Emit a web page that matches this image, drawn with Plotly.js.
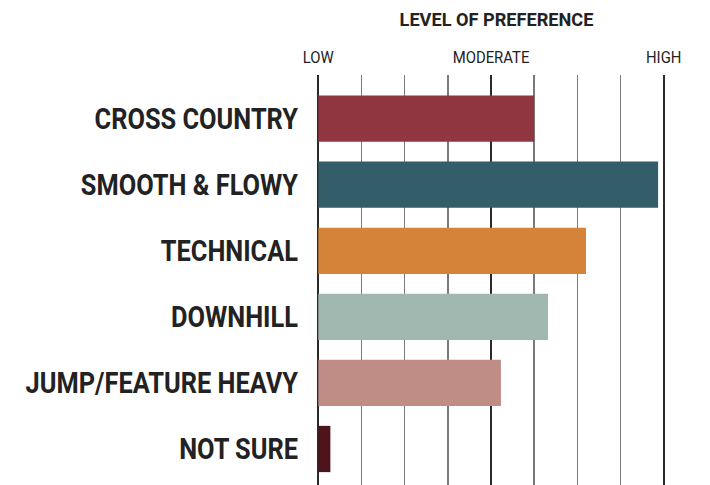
<!DOCTYPE html>
<html>
<head>
<meta charset="utf-8">
<script src="https://cdn.plot.ly/plotly-3.0.1.min.js"></script>
<style>html,body{margin:0;padding:0;background:#fff;}#chart{width:710px;height:485px;}</style>
</head>
<body>
<div id="chart"></div>
<script>
var categories = ['CROSS COUNTRY', 'SMOOTH & FLOWY', 'TECHNICAL', 'DOWNHILL', 'JUMP/FEATURE HEAVY', 'NOT SURE'];
var values = [5.0, 7.87, 6.2, 5.32, 4.23, 0.28];
var barColors = ['#8f3641', '#335d68', '#d6833a', '#a0b8af', '#bf8c86', '#4e141c'];
var scaleVals = [0, 4, 8];
var scaleText = ['LOW', 'MODERATE', 'HIGH'];

var FONT = 'Roboto, "Noto Sans", sans-serif';

var trace = {
  type: 'bar',
  orientation: 'h',
  y: categories,
  x: values,
  marker: { color: barColors, line: { width: 0 } },
  hoverinfo: 'x+y'
};

var layout = {
  width: 710,
  height: 485,
  margin: { l: 317, r: 45, t: 75, b: 0, pad: 0 },
  paper_bgcolor: '#fff',
  plot_bgcolor: '#fff',
  bargap: 0.3,
  showlegend: false,
  font: { family: FONT, color: '#222' },
  title: {
    text: '<b>LEVEL OF PREFERENCE</b>',
    font: { family: FONT, size: 19, color: '#222' },
    x: 496.5 / 710, xref: 'container', xanchor: 'center',
    y: 1 - 19 / 485, yref: 'container', yanchor: 'middle'
  },
  xaxis: {
    side: 'top',
    range: [-0.03, 8.03],
    tickmode: 'array',
    tickvals: scaleVals,
    ticktext: scaleText,
    tickfont: { family: FONT, size: 16, color: '#222' },
    ticks: '',
    ticklabelstandoff: 8,
    showgrid: true,
    gridcolor: '#2a2a2a',
    gridwidth: 2,
    zeroline: false,
    showline: false,
    minor: { dtick: 1, tick0: 0, showgrid: true, gridcolor: '#7a7a7a', gridwidth: 1.5, ticks: '' },
    fixedrange: true
  },
  yaxis: {
    type: 'category',
    autorange: false,
    range: [5.545, -0.66],
    tickfont: { family: FONT, size: 29, color: '#222', weight: 'bold' },
    ticks: '',
    ticklabelstandoff: 18,
    showgrid: false,
    zeroline: false,
    showline: false,
    fixedrange: true
  }
};

function condense(selector, k) {
  document.querySelectorAll(selector).forEach(function (t) {
    var L = t.getComputedTextLength();
    if (L > 0) {
      t.setAttribute('textLength', (L * k).toFixed(1));
      t.setAttribute('lengthAdjust', 'spacingAndGlyphs');
    }
  });
}

Plotly.newPlot('chart', [trace], layout, { displayModeBar: false, staticPlot: true }).then(function () {
  condense('.ytick text', 0.875);
  condense('.xtick text', 0.93);
  condense('.gtitle', 0.955);
});
</script>
</body>
</html>
